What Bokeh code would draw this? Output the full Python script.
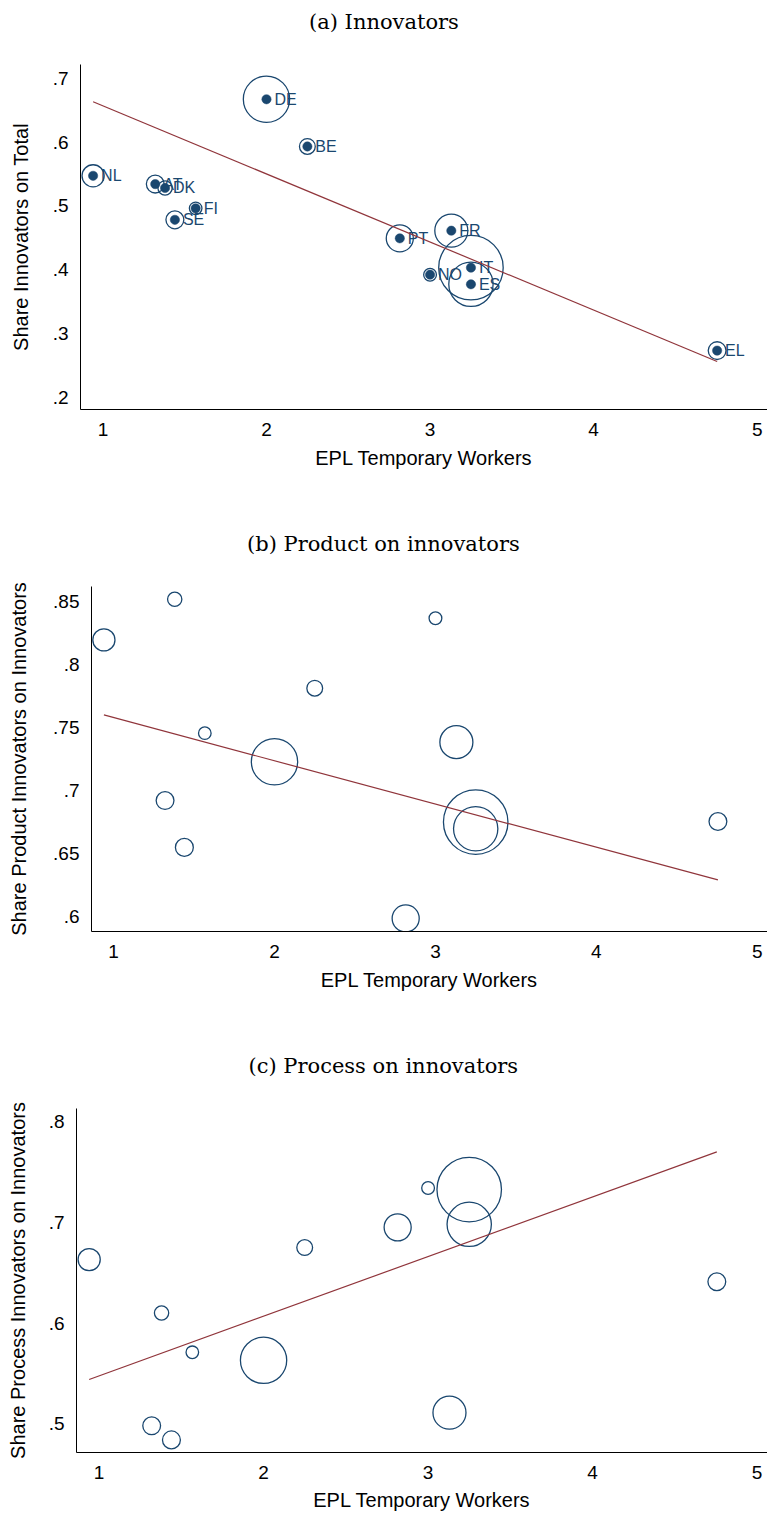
from bokeh.plotting import figure
from bokeh.layouts import column
from bokeh.models import FixedTicker, ColumnDataSource, Range1d, Title
from bokeh.embed import file_html
from bokeh.resources import INLINE
from bokeh.core.properties import value
import math

# ---------------- data ----------------
countries = ["NL", "AT", "DK", "FI", "SE", "DE", "BE", "PT", "FR", "NO", "IT", "ES", "EL"]
epl_temp = [0.94, 1.32, 1.38, 1.567, 1.44, 2.0, 2.25, 2.815, 3.13, 3.0, 3.25, 3.25, 4.755]
weight = [11.8, 7.6, 4.9, 3.8, 7.7, 51.5, 6.0, 17.6, 26.2, 3.9, 100.0, 47.2, 7.6]
share_innov = [0.547, 0.534, 0.528, 0.496, 0.478, 0.667, 0.593, 0.449, 0.461, 0.392, 0.403, 0.377, 0.273]
share_product = [0.8196, 0.692, 0.8519, 0.7455, 0.6548, 0.7228, 0.7812, 0.5984, 0.7384, 0.8368, 0.6749, 0.6696, 0.6754]
share_process = [0.663, 0.498, 0.610, 0.571, 0.484, 0.563, 0.675, 0.695, 0.511, 0.734, 0.7325, 0.698, 0.641]
# fitted values at min / max EPL
fit_innov = [0.663, 0.256]
fit_product = [0.760, 0.629]
fit_process = [0.544, 0.770]

x_ticks = [1, 2, 3, 4, 5]
y_ticks_a = [0.2, 0.3, 0.4, 0.5, 0.6, 0.7]
y_labels_a = [".2", ".3", ".4", ".5", ".6", ".7"]
y_ticks_b = [0.6, 0.65, 0.7, 0.75, 0.8, 0.85]
y_labels_b = [".6", ".65", ".7", ".75", ".8", ".85"]
y_ticks_c = [0.5, 0.6, 0.7, 0.8]
y_labels_c = [".5", ".6", ".7", ".8"]

titles = ["(a) Innovators", "(b) Product on innovators", "(c) Process on innovators"]
y_titles = ["Share Innovators on Total", "Share Product Innovators on Innovators",
            "Share Process Innovators on Innovators"]
x_title = "EPL Temporary Workers"

NAVY = "#1a476f"
MAROON = "#90353b"
SANS = "Liberation Sans"
SERIF = "DejaVu Serif"

FIG_W = 767
X_RANGE = (0.863, 5.063)
PAGE_CENTER = 384

MAX_D = 64.5
sizes = [MAX_D * math.sqrt(w / 100.0) for w in weight]
x_fit = [min(epl_temp), max(epl_temp)]


def make_panel(yvals, fit, yticks, ylabels, title, title_w, ytitle, yrange, geom, dots):
    height, btop, frame_h, bleft, xstand, ystand, spacer = geom
    bbottom = height - btop - frame_h
    p = figure(width=FIG_W, height=height, output_backend="svg", toolbar_location=None,
               x_range=Range1d(*X_RANGE), y_range=Range1d(*yrange),
               min_border_left=bleft, min_border_right=0, min_border_top=btop,
               min_border_bottom=bbottom)
    p.frame_align = False
    p.outline_line_color = None
    p.xgrid.visible = False
    p.ygrid.visible = False
    p.background_fill_color = "white"
    p.border_fill_color = "white"

    for ax in (p.xaxis[0], p.yaxis[0]):
        ax.axis_line_color = "black"
        ax.axis_line_width = 1
        ax.major_tick_out = 0
        ax.major_tick_in = 0
        ax.minor_tick_out = 0
        ax.minor_tick_in = 0
        ax.major_tick_line_color = None
        ax.minor_tick_line_color = None
        ax.major_label_text_font = SANS
        ax.major_label_text_font_size = "19px"
        ax.major_label_text_color = "black"
        ax.axis_label_text_font = SANS
        ax.axis_label_text_font_size = "20px"
        ax.axis_label_text_font_style = "normal"
        ax.axis_label_text_color = "black"

    p.xaxis.ticker = FixedTicker(ticks=x_ticks)
    p.xaxis.axis_label = x_title
    p.xaxis.major_label_standoff = 13
    p.xaxis.axis_label_standoff = xstand
    p.yaxis.ticker = FixedTicker(ticks=yticks)
    p.yaxis.major_label_overrides = {t: l for t, l in zip(yticks, ylabels)}
    p.yaxis.axis_label = ytitle
    p.yaxis.major_label_standoff = 12
    p.yaxis.axis_label_standoff = ystand
    p.yaxis.major_label_orientation = "horizontal"

    # blank spacer between frame and the panel title, then the title itself
    p.add_layout(Title(text=" ", text_font_size="10px", standoff=spacer), "above")
    p.add_layout(Title(text=title, align="left", offset=PAGE_CENTER - title_w / 2 - bleft,
                       standoff=0, text_font=SERIF, text_font_size="21px",
                       text_font_style="normal", text_color="black"), "above")

    src = ColumnDataSource(dict(x=epl_temp, y=yvals, s=sizes, c=countries))
    p.scatter("x", "y", size="s", source=src, marker="circle", fill_color=None,
              line_color=NAVY, line_width=1.3)
    if dots:
        p.scatter("x", "y", size=9.3, source=src, marker="circle", fill_color=NAVY,
                  line_color=NAVY, line_width=0.5)
        p.text("x", "y", text="c", source=src, x_offset=8, text_baseline="middle",
               text_align="left", text_font=value(SANS), text_font_size=value("16px"),
               text_color=NAVY)
    p.line(x_fit, fit, line_color=MAROON, line_width=1.2)
    return p


pa = make_panel(share_innov, fit_innov, y_ticks_a, y_labels_a, titles[0], 151, y_titles[0],
                (0.1807, 0.7215), (523, 64, 345, 80, 8, 18, 18), True)
pb = make_panel(share_product, fit_product, y_ticks_b, y_labels_b, titles[1], 275, y_titles[1],
                (0.588, 0.862), (522, 63, 345, 91, 8, 20, 18), False)
pc = make_panel(share_process, fit_process, y_ticks_c, y_labels_c, titles[2], 272, y_titles[2],
                (0.4715, 0.813), (471, 63, 344, 76, 7, 17, 18), False)

layout = column(pa, pb, pc, spacing=0)
open("out.html", "w").write(file_html(layout, INLINE))
